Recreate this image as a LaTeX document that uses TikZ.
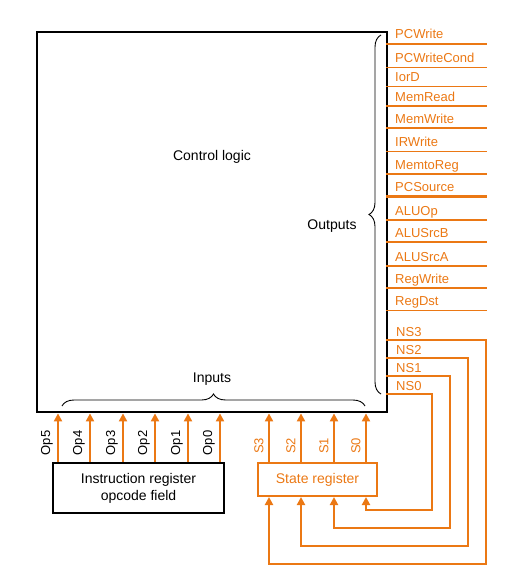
\documentclass[tikz,border=0pt]{standalone}
\usepackage{fontspec}
\setmainfont{Liberation Sans}
\usetikzlibrary{arrows.meta,decorations.pathreplacing,positioning}
\definecolor{ctlorange}{RGB}{235,120,20}

\begin{document}
\begin{tikzpicture}[x=1pt,y=-1pt,
    sig/.style={ctlorange,line width=2pt,-{Triangle[width=8pt,length=8pt]}},
    outline/.style={ctlorange,line width=1.2pt},
    buslane/.style={ctlorange,line width=2.6pt},
    olabel/.style={ctlorange,anchor=base west,inner sep=0,font=\fontsize{13}{15}\selectfont},
    vlabel/.style={rotate=90,inner sep=0,font=\fontsize{13}{15}\selectfont},
    bracket/.style={decorate,decoration={brace,amplitude=12pt},line width=0.9pt}]
    \useasboundingbox (0,0) rectangle (513,586);
    \fontsize{14}{17}\selectfont
    % control logic block
    \node[draw,line width=2.4pt,minimum width=350pt,minimum height=380pt,
        anchor=north west,inner sep=0] (ctrl) at (36,31) {};
    \node (logic) at (212,157) {Control logic};
    \node (inlab) at (212,379) {Inputs};
    \node (outlab) at (332,226) {Outputs};
    \draw[bracket] (62,406) -- (365,406);
    \draw[bracket] (381,394) -- (381,35);
    % registers
    \node[draw,line width=2pt,minimum width=171pt,minimum height=50pt,
        align=center,inner sep=0] (ir) at (138.5,488)
        {Instruction register\\opcode field};
    \node[draw=ctlorange,text=ctlorange,line width=2pt,minimum width=119pt,
        minimum height=33pt,inner sep=0] (sr) at (317.5,479.5) {State register};
    % opcode and state inputs
    \foreach \x/\n in {58/Op5,90/Op4,123/Op3,155/Op2,188/Op1,220/Op0}{
        \coordinate (\n) at (\x,0);
        \draw[sig] (ir.north -| \n) -- (ctrl.south -| \n);
        \node[vlabel] at (\x-11,443) {\n};
    }
    \foreach \x/\n in {269/S3,301/S2,334/S1,366/S0}{
        \coordinate (\n) at (\x,0);
        \draw[sig] (sr.north -| \n) -- (ctrl.south -| \n);
        \node[vlabel,text=ctlorange] at (\x-10,446) {\n};
    }
    % control outputs
    \foreach \y/\n in {44/PCWrite,67.7/PCWriteCond,86.7/IorD,106/MemRead,
        128/MemWrite,151.7/IRWrite,174/MemtoReg,266/ALUSrcA,288/RegWrite,
        310.7/RegDst}{
        \coordinate (\n) at (386,\y);
        \draw[outline] (\n) -- ++(101,0);
        \node[olabel] at (395,\y-5) {\n};
    }
    \foreach \y/\n in {196.7/PCSource,220/ALUOp,242/ALUSrcB}{
        \coordinate (\n) at (386,\y);
        \draw[buslane] (\n) -- ++(101,0);
        \node[olabel] at (395,\y-5) {\n};
    }
    % next state feedback
    \foreach \y/\n/\r/\b/\s in {340/NS3/486/564/S3,358/NS2/468/546/S2,
        376/NS1/450/528/S1,394/NS0/432/510/S0}{
        \coordinate (\n) at (386,\y);
        \node[olabel] at (396,\y-4) {\n};
        \draw[sig] (\n) -| (\r,\b) -| (sr.south -| \s);
    }
\end{tikzpicture}
\end{document}
